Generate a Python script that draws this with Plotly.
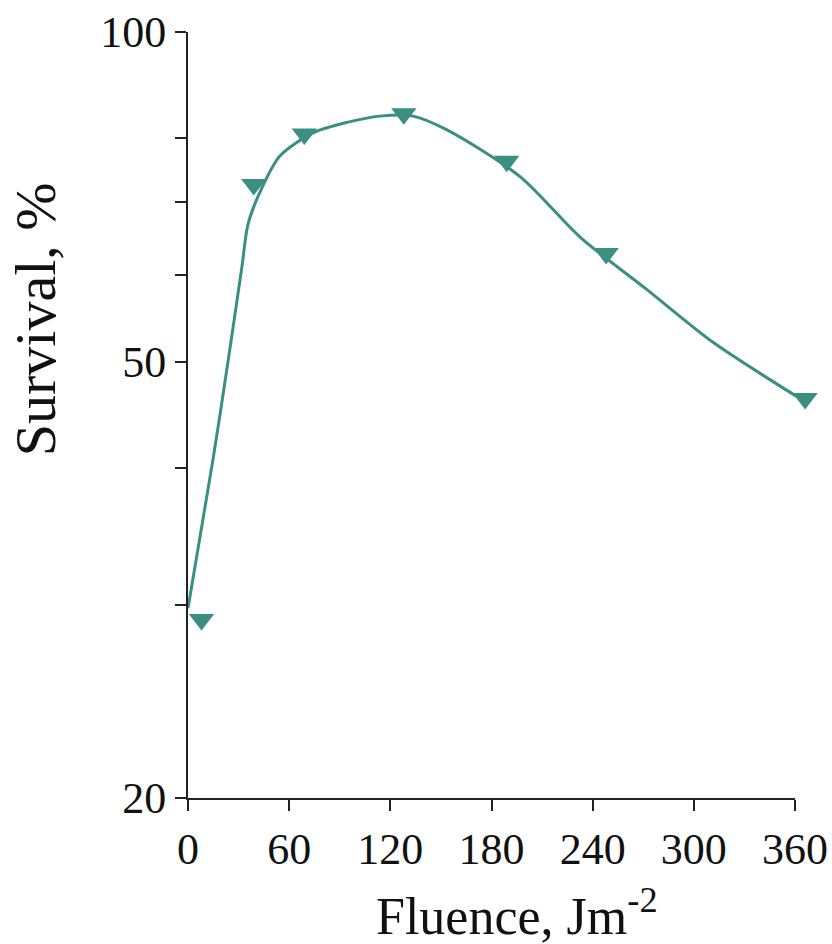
import plotly.graph_objects as go
import math

# Measured data points (fluence J/m^2, survival %)
fluence_pts = [8, 39, 69, 128, 189, 248, 366]
survival_pts = [29.1, 72.6, 80.7, 84.2, 76.2, 62.8, 46.3]

# Fitted smooth curve
curve_x = [0, 14.8, 23.7, 32, 35.6, 43.9, 54.6, 74.1, 94.3, 113.9, 133.5,
           153.6, 196.9, 232.5, 272.2, 311.4, 365.9]
curve_y = [29.8, 40.7, 50.0, 61.1, 66.8, 72.1, 77.1, 80.9, 82.7, 83.8, 83.8,
           81.4, 73.8, 65.0, 58.2, 52.1, 46.0]

x_ticks = [0, 60, 120, 180, 240, 300, 360]
y_ticks = [20, 30, 40, 50, 60, 70, 80, 100]
y_ticktext = ["20", "", "", "50", "", "", "", "100"]

teal = "#3a8f80"
axis_col = "#222222"
text_col = "#111111"
font_family = "Liberation Serif, Times New Roman, serif"

# Visible x axis occupies part of the plotting width; data axis is wider so the
# last measurement (beyond 360) stays visible past the end of the axis line.
x_domain_end = 607 / 627
x_data_max = 360 / x_domain_end

fig = go.Figure()
# empty trace that attaches the visible fluence axis
fig.add_trace(go.Scatter(x=[], y=[], xaxis="x2", yaxis="y", mode="lines",
                         hoverinfo="skip", showlegend=False))
fig.add_trace(go.Scatter(
    x=curve_x, y=curve_y, mode="lines",
    line=dict(color=teal, width=3, shape="spline", smoothing=0.8),
    hoverinfo="skip", cliponaxis=False, showlegend=False,
))
fig.add_trace(go.Scatter(
    x=fluence_pts, y=survival_pts, mode="markers",
    marker=dict(symbol="triangle-down", size=22, color=teal),
    cliponaxis=False, showlegend=False,
))

fig.update_layout(
    width=832, height=944,
    margin=dict(l=188, r=17, t=32, b=146),
    paper_bgcolor="white", plot_bgcolor="rgba(0,0,0,0)",
    font=dict(family=font_family, size=44, color=text_col),
    xaxis=dict(
        range=[0, x_data_max], domain=[0, 1], visible=False,
        showgrid=False, zeroline=False, automargin=False,
    ),
    xaxis2=dict(
        range=[0, 360], domain=[0, x_domain_end], anchor="y",
        tickvals=x_ticks, ticktext=[str(v) for v in x_ticks],
        showline=True, linecolor=axis_col, linewidth=2,
        ticks="outside", ticklen=11, tickwidth=2, tickcolor=axis_col,
        showgrid=False, zeroline=False, automargin=False,
        tickfont=dict(family=font_family, size=44, color=text_col),
    ),
    yaxis=dict(
        type="log", range=[math.log10(20), 2], anchor="x",
        tickvals=y_ticks, ticktext=y_ticktext,
        showline=True, linecolor=axis_col, linewidth=2,
        ticks="outside", ticklen=11, tickwidth=2, tickcolor=axis_col,
        showgrid=False, zeroline=False, automargin=False,
        tickfont=dict(family=font_family, size=44, color=text_col),
    ),
    annotations=[
        dict(text="Survival, %", xref="paper", yref="paper", x=-0.244, y=0.625,
             xanchor="center", yanchor="middle", textangle=-90, showarrow=False,
             font=dict(family=font_family, size=58, color=text_col)),
        dict(text="Fluence, Jm<sup>-2</sup>", x=0.525, y=-0.149,
             xref="paper", yref="paper",
             xanchor="center", yanchor="middle", showarrow=False,
             font=dict(family=font_family, size=52, color=text_col)),
    ],
)

fig.write_html("out.html", config={"displayModeBar": False},
               post_script="document.body.style.margin='0';document.body.style.overflow='hidden';")
